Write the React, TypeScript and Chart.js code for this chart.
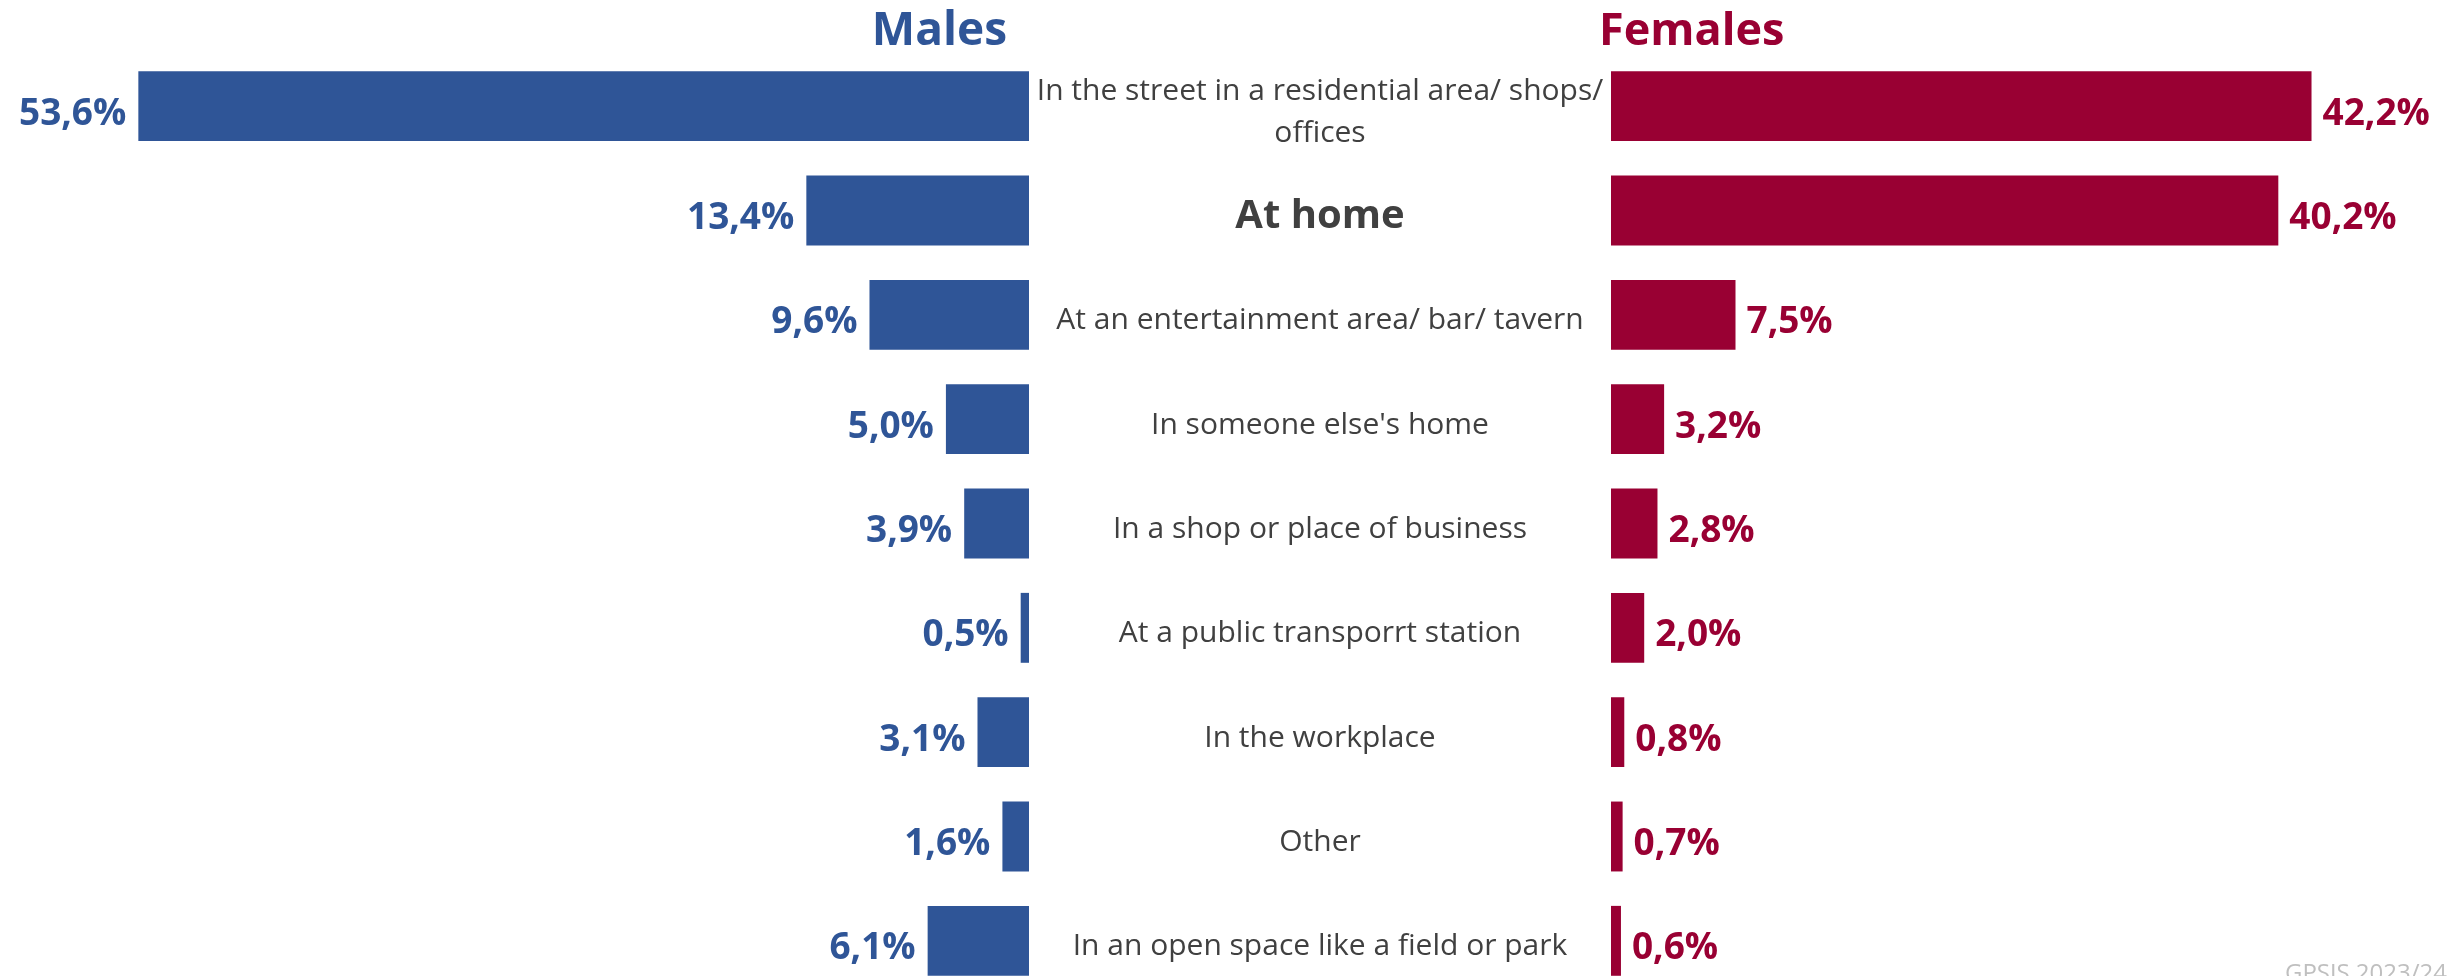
import React, { useEffect, useRef } from "react";
import { Chart, registerables } from "chart.js";

Chart.register(...registerables);

// ---- data ----
const categories: (string | string[])[] = [
  ["In the street in a residential area/ shops/", "offices"],
  "At home",
  "At an entertainment area/ bar/ tavern",
  "In someone else's home",
  "In a shop or place of business",
  "At a public transporrt station",
  "In the workplace",
  "Other",
  "In an open space like a field or park",
];
const malesValues = [53.6, 13.4, 9.6, 5.0, 3.9, 0.5, 3.1, 1.6, 6.1];
const femalesValues = [42.2, 40.2, 7.5, 3.2, 2.8, 2.0, 0.8, 0.7, 0.6];
const highlightedCategories = ["At home"];
const seriesTitles = ["Males", "Females"];
const sourceNote = "GPSJS 2023/24";

// ---- style ----
const MALE_COLOR = "#2F5597";
const FEMALE_COLOR = "#990033";
const TEXT_COLOR = "#404040";
const NOTE_COLOR = "#BFBFBF";
const FONT = "'Open Sans', 'Noto Sans', sans-serif";

const W = 2464;
const H = 976;
const CANVAS_H = 1000;
const LEFT_W = 1029;
const RIGHT_W = W - LEFT_W;
const GAP_W = 582;
const PAD_TOP = 54;
const PAD_BOTTOM = 7;

const fmt = (v: number) => v.toFixed(1).replace(".", ",") + "%";

function valueLabelsPlugin(side: "left" | "right", color: string) {
  return {
    id: "valueLabels-" + side,
    afterDatasetsDraw(chart: any) {
      const ctx = chart.ctx;
      const meta = chart.getDatasetMeta(0);
      const data = chart.data.datasets[0].data as number[];
      ctx.save();
      ctx.font = `bold 37px ${FONT}`;
      ctx.fillStyle = color;
      ctx.textBaseline = "middle";
      ctx.textAlign = side === "left" ? "right" : "left";
      meta.data.forEach((bar: any, i: number) => {
        const x = side === "left" ? bar.x - 12 : bar.x + 11;
        ctx.fillText(fmt(data[i]), x, bar.y + 8);
      });
      ctx.restore();
    },
  };
}

const leftDecor = {
  id: "leftDecor",
  afterDraw(chart: any) {
    const ctx = chart.ctx;
    const area = chart.chartArea;
    ctx.save();
    ctx.font = `bold 46px ${FONT}`;
    ctx.fillStyle = MALE_COLOR;
    ctx.textAlign = "right";
    ctx.textBaseline = "alphabetic";
    ctx.fillText(seriesTitles[0], area.right - 22, 45);
    ctx.restore();
  },
};

const rightDecor = {
  id: "rightDecor",
  afterDraw(chart: any) {
    const ctx = chart.ctx;
    const area = chart.chartArea;
    const yScale = chart.scales.y;
    ctx.save();
    // title
    ctx.font = `bold 45px ${FONT}`;
    ctx.fillStyle = FEMALE_COLOR;
    ctx.textAlign = "left";
    ctx.textBaseline = "alphabetic";
    ctx.fillText(seriesTitles[1], area.left - 12, 45);
    // category labels in the centre column
    const cx = area.left - GAP_W / 2;
    ctx.fillStyle = TEXT_COLOR;
    ctx.textAlign = "center";
    ctx.textBaseline = "middle";
    categories.forEach((cat, i) => {
      const lines = Array.isArray(cat) ? cat : [cat];
      const bold = highlightedCategories.includes(lines.join(" "));
      const size = bold ? 40 : 30;
      const lh = 42;
      ctx.font = `${bold ? "bold " : ""}${size}px ${FONT}`;
      const y = yScale.getPixelForValue(i) + 6;
      const startY = y - ((lines.length - 1) * lh) / 2;
      lines.forEach((ln, k) => ctx.fillText(ln, cx, startY + k * lh));
    });
    // source note
    ctx.font = `24px ${FONT}`;
    ctx.fillStyle = NOTE_COLOR;
    ctx.textAlign = "right";
    ctx.textBaseline = "top";
    ctx.fillText(sourceNote, area.right + 6, 962);
    ctx.restore();
  },
};

export default function App() {
  const leftRef = useRef<HTMLCanvasElement | null>(null);
  const rightRef = useRef<HTMLCanvasElement | null>(null);

  useEffect(() => {
    const labels = categories.map((c) => (Array.isArray(c) ? c.join(" ") : c));
    const left = new Chart(leftRef.current as HTMLCanvasElement, {
      type: "bar",
      data: {
        labels,
        datasets: [
          {
            label: seriesTitles[0],
            data: malesValues,
            backgroundColor: MALE_COLOR,
            categoryPercentage: 1,
            barPercentage: 0.67,
          },
        ],
      },
      options: {
        indexAxis: "y",
        responsive: false,
        animation: false,
        layout: { padding: { left: 32, right: 0, top: PAD_TOP, bottom: PAD_BOTTOM } },
        plugins: { legend: { display: false }, tooltip: { enabled: false }, title: { display: false } },
        scales: {
          x: { type: "linear", reverse: true, min: 0, max: 60, display: false },
          y: { type: "category", display: false, offset: true },
        },
      },
      plugins: [valueLabelsPlugin("left", MALE_COLOR), leftDecor],
    } as any);

    const right = new Chart(rightRef.current as HTMLCanvasElement, {
      type: "bar",
      data: {
        labels,
        datasets: [
          {
            label: seriesTitles[1],
            data: femalesValues,
            backgroundColor: FEMALE_COLOR,
            categoryPercentage: 1,
            barPercentage: 0.67,
          },
        ],
      },
      options: {
        indexAxis: "y",
        responsive: false,
        animation: false,
        layout: { padding: { left: GAP_W, right: 23, top: PAD_TOP, bottom: PAD_BOTTOM } },
        plugins: { legend: { display: false }, tooltip: { enabled: false }, title: { display: false } },
        scales: {
          x: { type: "linear", min: 0, max: 50, display: false },
          y: { type: "category", display: false, offset: true },
        },
      },
      plugins: [valueLabelsPlugin("right", FEMALE_COLOR), rightDecor],
    } as any);

    return () => {
      left.destroy();
      right.destroy();
    };
  }, []);

  return (
    <div
      style={{
        position: "fixed",
        left: 0,
        top: 0,
        width: W,
        height: H,
        overflow: "hidden",
        background: "#ffffff",
      }}
    >
      <canvas
        ref={leftRef}
        width={LEFT_W}
        height={CANVAS_H}
        style={{ position: "absolute", left: 0, top: 0, width: LEFT_W, height: CANVAS_H }}
      />
      <canvas
        ref={rightRef}
        width={RIGHT_W}
        height={CANVAS_H}
        style={{ position: "absolute", left: LEFT_W, top: 0, width: RIGHT_W, height: CANVAS_H }}
      />
    </div>
  );
}
